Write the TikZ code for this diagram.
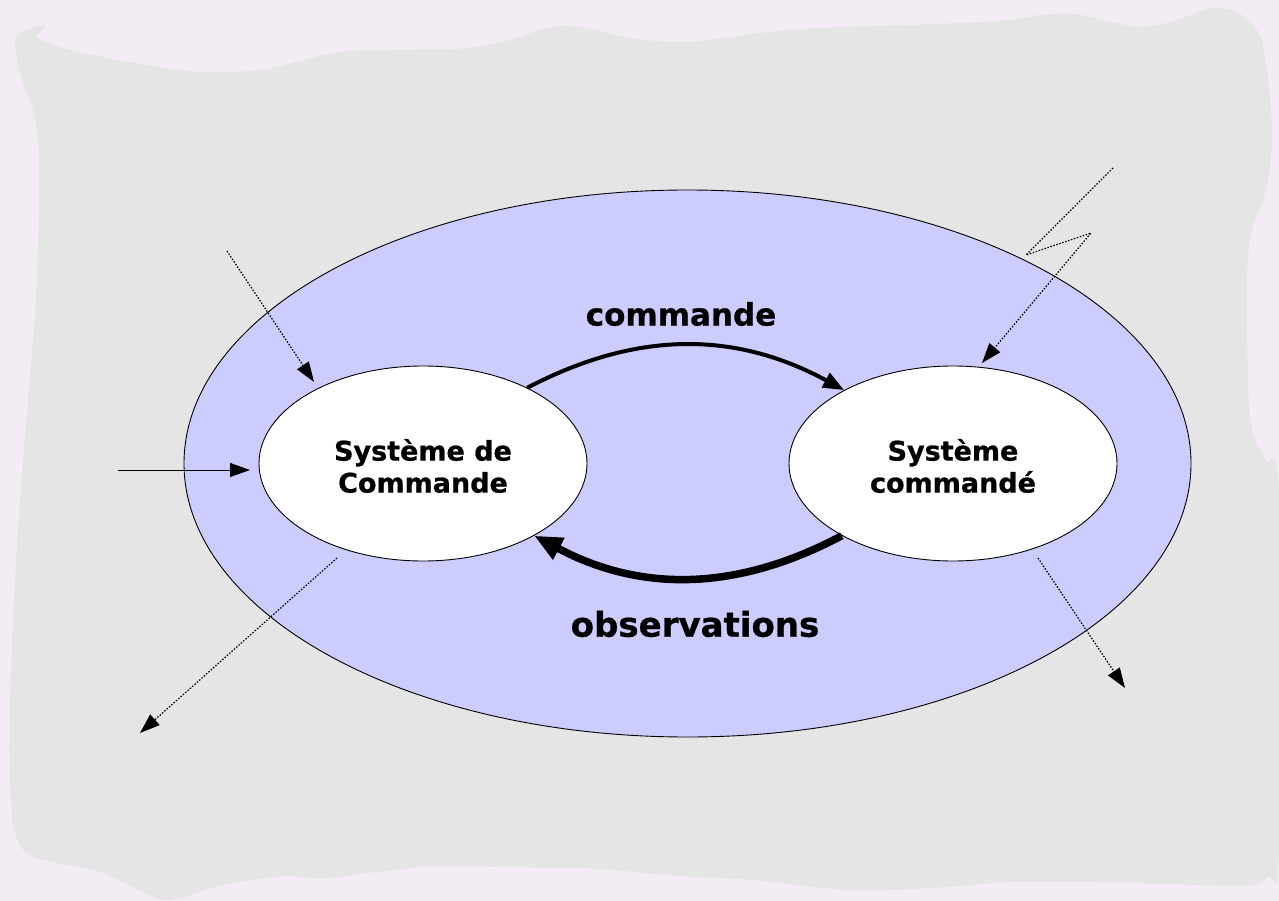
\documentclass[tikz,border=0pt]{standalone}
\usepackage{fontspec}
\setmainfont{DejaVu Sans}[BoldFeatures={FakeBold=0.8}]
\usetikzlibrary{shapes.geometric,arrows.meta}
\definecolor{pagebg}{RGB}{243,236,245}
\definecolor{blobgray}{RGB}{229,229,229}
\definecolor{loopblue}{RGB}{204,204,255}
\tikzset{
  sysbox/.style={ellipse, draw=black, line width=0.9pt, fill=white, inner sep=0pt,
                 minimum width=328pt, minimum height=195pt},
  systext/.style={font=\fontsize{27}{32}\selectfont\bfseries, align=center, inner sep=0pt},
  loopcmd/.style={line width=4pt, -{Triangle[length=21pt,width=16pt]}},
  loopobs/.style={line width=7.5pt, -{Triangle[length=28pt,width=23pt]}},
  thinarrow/.style={line width=1pt, -{Triangle[length=20pt,width=14pt]}},
  dotarrow/.style={thinarrow, line width=1.2pt, dash pattern=on 1.5pt off 1.6pt},
}
\begin{document}
\begin{tikzpicture}[x=1pt,y=1pt]
\useasboundingbox (0,0) rectangle (1279,-901);
\fill[pagebg] (0,0) rectangle (1279,-901);
% irregular grey sheet
\fill[blobgray] plot[smooth cycle, tension=0.55] coordinates {
  (17,-36) (42,-25) (44,-28) (38,-38) (70,-50) (130,-62) (200,-72) (260,-70)
  (300,-61) (340,-52) (400,-50) (470,-48) (510,-40) (540,-30) (565,-26)
  (595,-30) (635,-39) (690,-42) (745,-35) (800,-29) (880,-26) (960,-23)
  (1010,-20) (1040,-15) (1075,-14) (1110,-22) (1145,-27) (1180,-19)
  (1212,-8) (1240,-14) (1260,-36) (1268,-80) (1272,-140) (1266,-190)
  (1252,-230) (1247,-280) (1248,-380) (1252,-430) (1265,-460) (1279,-495)
  (1279,-850) (1268,-876) (1249,-885) (1163,-884) (1098,-882) (1011,-882)
  (946,-887) (864,-891) (825,-888) (752,-880) (665,-875) (600,-869)
  (500,-867) (421,-867) (325,-878) (283,-876) (214,-887) (165,-900)
  (100,-872) (34,-857) (15,-833) (10,-780) (10,-700) (14,-600) (20,-500)
  (28,-400) (36,-300) (39,-200) (38,-140) (33,-110) (23,-83) (17,-60)
};
% closed loop
\node[ellipse, draw=black, line width=0.9pt, fill=loopblue, inner sep=0pt,
      minimum width=1007pt, minimum height=547pt] (loop) at (687.5,-463.5) {};
\node[sysbox] (ctrl) at (423,-463.5) {};
\node[sysbox] (plant) at (953,-463.5) {};
\node[systext] (ctrltext) at (423,-466) {Système de\\Commande};
\node[systext] (planttext) at (953,-466) {Système\\commandé};
\node[font=\fontsize{31}{36}\selectfont\bfseries, inner sep=0pt] (lblcmd) at (681,-314) {commande};
\node[font=\fontsize{34}{40}\selectfont\bfseries, inner sep=0pt] (lblobs) at (695,-624) {observations};
% command and observation flows
\draw[loopcmd] (ctrl.36) to[bend left=28] (plant.146);
\draw[loopobs] (plant.213) to[bend left=28] (ctrl.327);
% external inputs and outputs
\coordinate (setpoint) at (118,-470);
\coordinate (setpointtip) at (250,-470);
\coordinate (distA) at (227,-251);
\coordinate (distAtip) at (314,-382);
\coordinate (boltA) at (1113,-168);
\coordinate (boltB) at (1026,-255);
\coordinate (boltC) at (1091,-233);
\coordinate (bolttip) at (982,-363);
\coordinate (outA) at (337,-558);
\coordinate (outAtip) at (140,-733);
\coordinate (outB) at (1038,-558);
\coordinate (outBtip) at (1125,-688);
\draw[thinarrow] (setpoint) -- (setpointtip);
\draw[dotarrow] (distA) -- (distAtip);
\draw[dotarrow] (boltA) -- (boltB) -- (boltC) -- (bolttip);
\draw[dotarrow] (outA) -- (outAtip);
\draw[dotarrow] (outB) -- (outBtip);
\end{tikzpicture}
\end{document}
